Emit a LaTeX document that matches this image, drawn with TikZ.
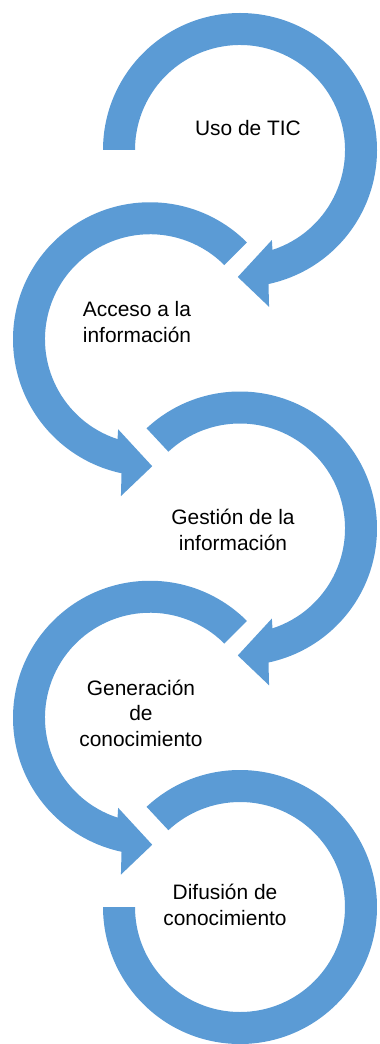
\documentclass[tikz,border=0pt]{standalone}
\usepackage{fontspec}
\setmainfont{Liberation Sans}
\definecolor{arrowblue}{RGB}{91,155,213}

\begin{document}
\begin{tikzpicture}[x=0.02cm,y=0.02cm]
	\fontsize{11.9}{14.5}\selectfont
	\tikzset{ring/.style={fill=arrowblue}, label/.style={align=center, inner sep=0pt}}
	\useasboundingbox (0,0) rectangle (379,-1044);
	\coordinate (c1) at (240,-150);
	\coordinate (c2) at (150,-339.25);
	\coordinate (c3) at (240,-528.5);
	\coordinate (c4) at (150,-717.75);
	\coordinate (c5) at (240,-907);

% clockwise arrows
\fill[ring,shift={(c1)}] (180:137) arc[start angle=180,end angle=-78,radius=137] -- (-79.5:159.5) -- (-91:127) -- (-70.5:95.5) -- (-72:105) arc[start angle=-72,end angle=180,radius=105] -- cycle;
\fill[ring,shift={(c3)}] (133:137) arc[start angle=133,end angle=-78,radius=137] -- (-79.5:159.5) -- (-91:127) -- (-70.5:95.5) -- (-72:105) arc[start angle=-72,end angle=133,radius=105] -- cycle;

% counter-clockwise arrows
\fill[ring,shift={(c2)}] (45:137) arc[start angle=45,end angle=258,radius=137] -- (259.5:159.5) -- (271:127) -- (250.5:95.5) -- (252:105) arc[start angle=252,end angle=45,radius=105] -- cycle;
\fill[ring,shift={(c4)}] (45:137) arc[start angle=45,end angle=258,radius=137] -- (259.5:159.5) -- (271:127) -- (250.5:95.5) -- (252:105) arc[start angle=252,end angle=45,radius=105] -- cycle;

% last ring, no tip
\fill[ring,shift={(c5)}] (133:137) arc[start angle=133,end angle=-180,radius=137] -- (180:105) arc[start angle=-180,end angle=133,radius=105] -- cycle;

	\node[label] (uso) at (248,-128) {Uso de TIC};
	\node[label] (acceso) at (137,-322) {Acceso a la\\información};
	\node[label] (gestion) at (233,-530) {Gestión de la\\información};
	\node[label] (generacion) at (141,-713) {Generación\\de\\conocimiento};
	\node[label] (difusion) at (225,-905) {Difusión de\\conocimiento};
\end{tikzpicture}
\end{document}
